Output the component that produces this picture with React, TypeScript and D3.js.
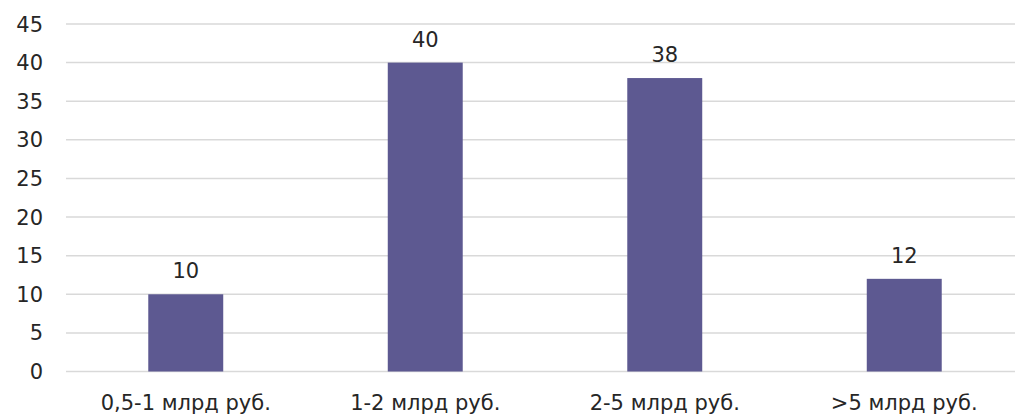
import React, { useEffect, useRef } from "react";
import * as d3 from "d3";

const categories = ["0,5-1 млрд руб.", "1-2 млрд руб.", "2-5 млрд руб.", ">5 млрд руб."];
const values = [10, 40, 38, 12];
const yTicks = [0, 5, 10, 15, 20, 25, 30, 35, 40, 45];

const W = 1015;
const H = 416;
const FONT = "'DejaVu Sans', sans-serif";
const FS = 21;

export default function App() {
  const ref = useRef<SVGSVGElement | null>(null);

  useEffect(() => {
    const svg = d3.select(ref.current);
    svg.selectAll("*").remove();

    const x = d3.scaleBand<string>().domain(categories).range([66, 1024]).paddingInner(0.687).paddingOuter(0.3435);
    const y = d3.scaleLinear().domain([0, 45]).range([371.5, 24]);

    const g = svg.append("g");

    g.selectAll("line.grid")
      .data(yTicks)
      .enter()
      .append("line")
      .attr("x1", 66)
      .attr("x2", W)
      .attr("y1", (d) => y(d))
      .attr("y2", (d) => y(d))
      .attr("stroke", "#d9d9d9")
      .attr("stroke-width", 1.5);

    g.selectAll("text.ytick")
      .data(yTicks)
      .enter()
      .append("text")
      .attr("x", 43)
      .attr("y", (d) => y(d))
      .attr("dy", "0.36em")
      .attr("text-anchor", "end")
      .attr("font-family", FONT)
      .attr("font-size", FS)
      .attr("fill", "#262626")
      .text((d) => String(d));

    g.selectAll("rect.bar")
      .data(values)
      .enter()
      .append("rect")
      .attr("x", (_, i) => x(categories[i]) as number)
      .attr("width", x.bandwidth())
      .attr("y", (d) => y(d))
      .attr("height", (d) => y(0) - y(d))
      .attr("fill", "#5d5991");

    g.selectAll("text.val")
      .data(values)
      .enter()
      .append("text")
      .attr("x", (_, i) => (x(categories[i]) as number) + x.bandwidth() / 2)
      .attr("y", (d) => y(d) - 16)
      .attr("text-anchor", "middle")
      .attr("font-family", FONT)
      .attr("font-size", FS)
      .attr("fill", "#262626")
      .text((d) => String(d));

    g.selectAll("text.cat")
      .data(categories)
      .enter()
      .append("text")
      .attr("x", (d) => (x(d) as number) + x.bandwidth() / 2)
      .attr("y", 410)
      .attr("text-anchor", "middle")
      .attr("font-family", FONT)
      .attr("font-size", FS)
      .attr("fill", "#262626")
      .text((d) => d);
  }, []);

  return (
    <svg
      ref={ref}
      width={W}
      height={H}
      style={{ position: "absolute", left: 0, top: 0, background: "#fff" }}
    />
  );
}
